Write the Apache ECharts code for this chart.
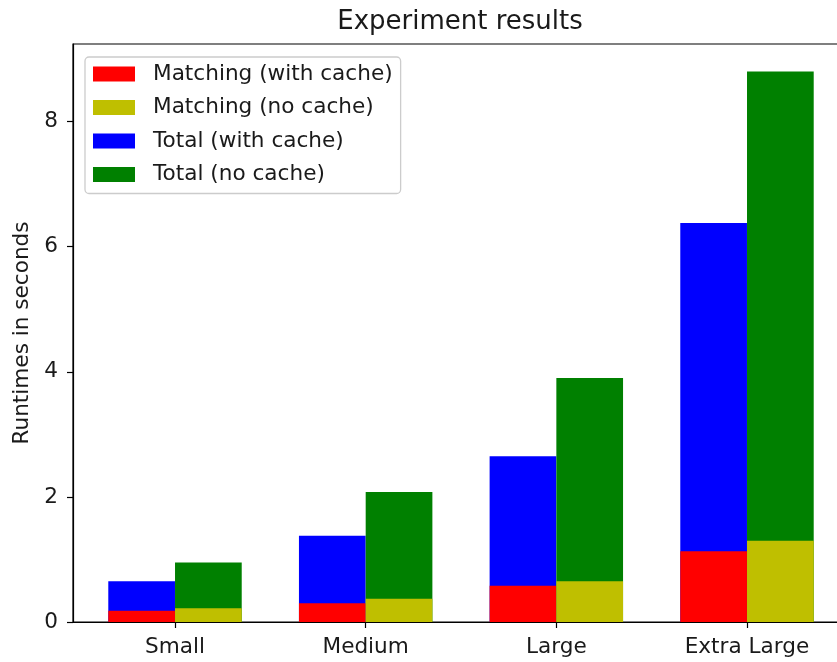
<!DOCTYPE html>
<html><head><meta charset="utf-8">
<script src="https://cdn.jsdelivr.net/npm/echarts@6/dist/echarts.min.js"></script>
<style>html,body{margin:0;padding:0;background:#fff}#c{width:837px;height:662px}</style>
</head><body><div id="c"></div>
<script>
const categories = ['Small', 'Medium', 'Large', 'Extra Large'];
const matchingWithCache = [0.18, 0.30, 0.58, 1.13];
const matchingNoCache = [0.22, 0.37, 0.65, 1.30];
const totalWithCache = [0.65, 1.38, 2.65, 6.38];
const totalNoCache = [0.95, 2.08, 3.90, 8.80];
const yTickValues = [0, 2, 4, 6, 8];
const xTickValues = [0, 1, 2, 3];

const FONT = 'DejaVu Sans';
const TXT = '#1a1a1a';
const FS = 21.6;
const half = 0.175; // half of bar width in category units

function pts(vals, off) { return vals.map((v, i) => [i + off, v]); }

const chart = echarts.init(document.getElementById('c'), null, {renderer: 'canvas'});
chart.setOption({
  animation: false,
  backgroundColor: '#fff',
  textStyle: {fontFamily: FONT},
  title: {
    text: 'Experiment results',
    left: 460, top: 9, padding: 0, textAlign: 'center',
    textStyle: {fontFamily: FONT, fontSize: 26, fontWeight: 'normal', color: TXT}
  },
  grid: {left: 73, top: 44, width: 776, height: 578, show: true, borderColor: '#000', borderWidth: 1.2,
    containLabel: false, outerBoundsMode: 'none'},
  legend: {
    orient: 'vertical', left: 85, top: 57,
    data: ['Matching (with cache)', 'Matching (no cache)', 'Total (with cache)', 'Total (no cache)'],
    icon: 'rect', itemWidth: 42, itemHeight: 15, itemGap: 11.5,
    padding: [6, 8, 8, 8],
    backgroundColor: 'rgba(255,255,255,0.8)', borderColor: '#cccccc', borderWidth: 1.3, borderRadius: 4,
    textStyle: {fontFamily: FONT, fontSize: FS, lineHeight: 20, color: TXT, padding: [0, 0, 0, 13]}
  },
  xAxis: {
    type: 'value', min: -0.535, max: 3.535,
    axisLine: {show: true, onZero: false, lineStyle: {color: '#000', width: 1.2}},
    axisTick: {show: true, length: 6, customValues: xTickValues, lineStyle: {color: '#000', width: 1.2}},
    axisLabel: {customValues: xTickValues, formatter: v => categories[Math.round(v)] || '', margin: 14,
      fontFamily: FONT, fontSize: FS, color: TXT},
    splitLine: {show: false}
  },
  yAxis: {
    type: 'value', min: 0, max: 9.24,
    name: 'Runtimes in seconds', nameLocation: 'middle', nameGap: 37,
    nameTextStyle: {fontFamily: FONT, fontSize: FS, color: TXT},
    axisLine: {show: true, onZero: false, lineStyle: {color: '#000', width: 1.2}},
    axisTick: {show: true, length: 6, customValues: yTickValues, lineStyle: {color: '#000', width: 1.2}},
    axisLabel: {customValues: yTickValues, margin: 15, fontFamily: FONT, fontSize: FS, color: TXT},
    splitLine: {show: false}
  },
  series: [
    {name: 'Total (with cache)', type: 'bar', data: pts(totalWithCache, -half), barWidth: 66.7, barGap: '-100%', itemStyle: {color: '#0000ff'}},
    {name: 'Total (no cache)', type: 'bar', data: pts(totalNoCache, half), barWidth: 66.7, barGap: '-100%', itemStyle: {color: '#008000'}},
    {name: 'Matching (with cache)', type: 'bar', data: pts(matchingWithCache, -half), barWidth: 66.7, barGap: '-100%', itemStyle: {color: '#ff0000'}},
    {name: 'Matching (no cache)', type: 'bar', data: pts(matchingNoCache, half), barWidth: 66.7, barGap: '-100%', itemStyle: {color: '#bfbf00'}}
  ]
});
</script></body></html>
